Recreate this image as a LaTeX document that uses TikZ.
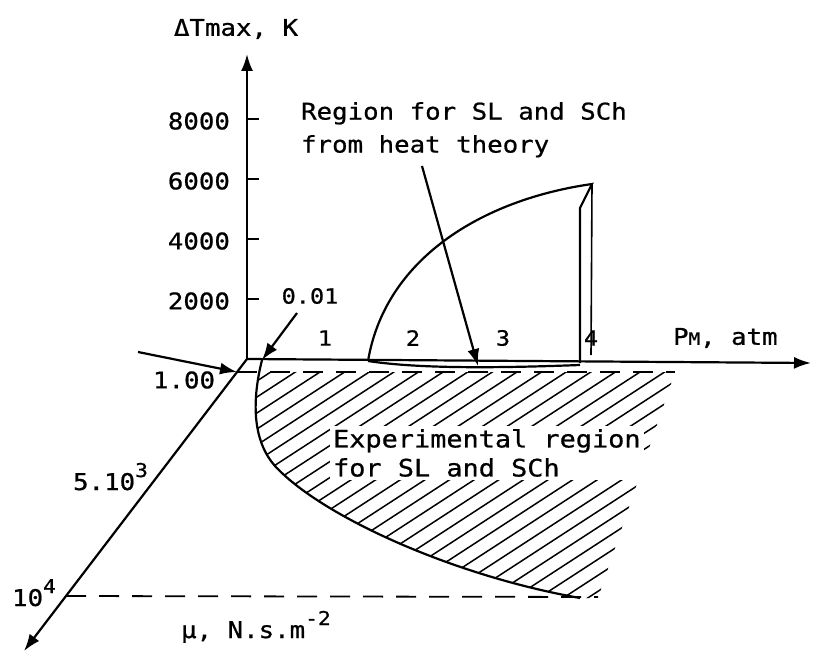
\documentclass[tikz,border=0pt]{standalone}
\usepackage{fontspec}
\setmainfont{DejaVu Sans Mono}[FakeStretch=1.12,FakeBold=0.8]
\usetikzlibrary{arrows.meta}
\newcommand\supnum[1]{\raisebox{13pt}{\fontsize{19}{19}\selectfont#1}}
\begin{document}
\begin{tikzpicture}[x={(1pt,0pt)},y={(0pt,-1pt)},line width=2.2pt,>={Latex[length=17pt,width=12pt]},
        lbl/.style={font=\fontsize{23}{30}\selectfont,inner sep=0pt},
        numlbl/.style={font=\fontsize{21}{21}\selectfont,inner sep=0pt},
        dashline/.style={dash pattern=on 20pt off 13pt,line width=1.8pt},
        hatchline/.style={line width=1.5pt}]
        \useasboundingbox (0,0) rectangle (813,652);
        \coordinate (O) at (247,359);
        \coordinate (Tend) at (247,54);
        \coordinate (Pend) at (811,363);
        \coordinate (muend) at (24,651);
        \coordinate (p100) at (237,372);
        \coordinate (p104) at (66,596);
        \coordinate (p001) at (262,360);
        \coordinate (onetail) at (138,352);
        \coordinate (pointtail) at (297,313);
        \coordinate (heattail) at (422,166);
        \coordinate (heattip) at (478,366);
        \draw[->] (O)--(Tend);
        \draw[->] (O)--(Pend);
        \draw[->] (O)--(muend);
        \foreach \v in {2000,4000,6000,8000} {
          \draw (247,359-0.03*\v)--++(12,0);
          \node[lbl,anchor=east] (tick\v) at (231,361-0.03*\v) {\v};
        }
        \begin{scope}
          \clip (p001) .. controls (252,400) and (252,440) .. (275,466) .. controls (320,515) and (450,575) .. (580,598)
            -- (598,598) -- (675,372) -- (258,372) -- cycle;
          \foreach \c in {500,516,...,1020} \draw[hatchline] (200,\c-0.65*200)--(720,\c-0.65*720);
        \end{scope}
        \draw (p001) .. controls (252,400) and (252,440) .. (275,466) .. controls (320,515) and (450,575) .. (580,598);
        \draw[dashline] (p100)--(675,372);
        \draw[dashline] (p104)--(598,597);
        \draw (368,361) .. controls (385,260) and (480,200) .. (592,184) -- (580,208) -- (580,363);
        \draw[line width=1.6pt] (592,184)--(591,355);
        \draw (368,361) .. controls (420,369) and (500,368) .. (580,365);
        \draw[->] (onetail)--(p100);
        \draw[->] (pointtail)--(p001);
        \draw[->] (heattail)--(heattip);
        \node[lbl] (Tlbl) at (236,29) {ΔTmax, K};
        \node[lbl,anchor=west] (Plbl) at (672,338) {P{\fontsize{17}{17}\selectfont M}, atm};
        \node[numlbl] (n1) at (325,338) {1};
        \node[numlbl] (n2) at (413,338) {2};
        \node[numlbl] (n3) at (503,338) {3};
        \node[numlbl] (n4) at (591,338) {4};
        \node[numlbl] (lbl001) at (310,296) {0.01};
        \node[lbl] (lbl100) at (184,380) {1.00};
        \node[lbl,anchor=base west] (lbl5e3) at (72,490) {5.10\supnum{3}};
        \node[lbl,anchor=base west] (lbl1e4) at (11,606) {10\supnum{4}};
        \node[lbl,anchor=base west] (mulbl) at (180,638) {μ, N.s.m\supnum{-2}};
        \node[lbl,anchor=north west,align=left,font=\fontsize{23}{33}\selectfont] (heatlbl) at (300,101) {Region for SL and SCh\\from heat theory};
        \node[lbl,anchor=north west,align=left,fill=white,inner sep=3pt,font=\fontsize{24}{29}\selectfont] (explbl) at (329,425) {Experimental region\\for SL and SCh};
\end{tikzpicture}
\end{document}
